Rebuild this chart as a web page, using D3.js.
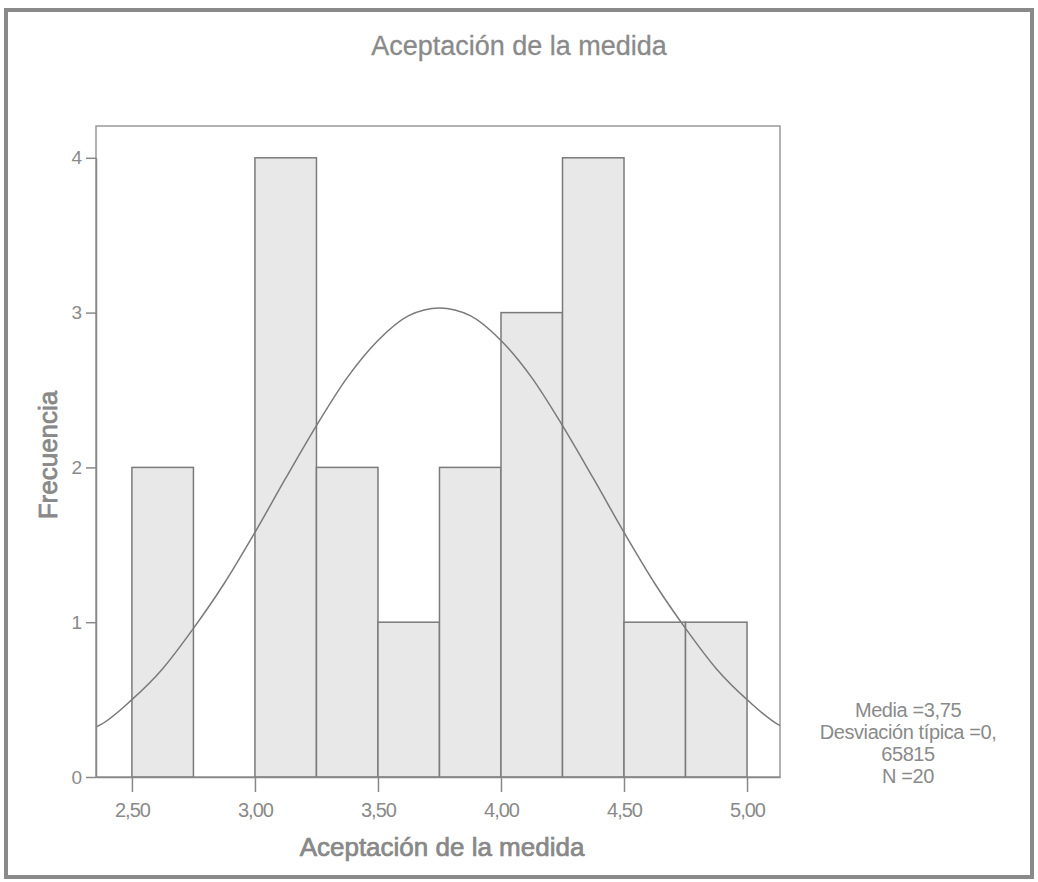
<!DOCTYPE html>
<html>
<head>
<meta charset="utf-8">
<script src="https://cdn.jsdelivr.net/npm/d3@7"></script>
<style>
  body { margin: 0; background: #fff; }
  text { font-family: "Liberation Sans", Arial, sans-serif; fill: #8a8a8a; }
</style>
</head>
<body>
<div id="chart"></div>
<script>
// histogram bins (lower edge) and counts
const binStarts = [2.50, 2.75, 3.00, 3.25, 3.50, 3.75, 4.00, 4.25, 4.50, 4.75]
const counts    = [2,    0,    4,    2,    1,    2,    3,    4,    1,    1]
const binWidth = 0.25

// normal curve
const curveX = [2.35, 2.375, 2.50, 2.625, 2.75, 2.875, 3.00, 3.125, 3.25, 3.375, 3.50, 3.625, 3.75,
                3.875, 4.00, 4.125, 4.25, 4.375, 4.50, 4.625, 4.75, 4.875, 5.00, 5.125, 5.15]
const curveY = [0.32, 0.34, 0.50, 0.70, 0.96, 1.25, 1.58, 1.93, 2.27, 2.58, 2.82, 2.98, 3.03,
                2.98, 2.82, 2.58, 2.27, 1.93, 1.58, 1.25, 0.96, 0.70, 0.50, 0.34, 0.32]

const xTicks = [2.5, 3.0, 3.5, 4.0, 4.5, 5.0]
const yTicks = [0, 1, 2, 3, 4]
const statsLines = ["Media =3,75", "Desviación típica =0,", "65815", "N =20"]

const W = 1038, H = 882
const plot = { left: 96, top: 126, right: 780, bottom: 777 }

const es = d3.formatLocale({ decimal: ",", thousands: ".", grouping: [3], currency: ["", "€"] })
const fmt2 = es.format(".2f")

const svg = d3.select("#chart").append("svg")
    .attr("width", W)
    .attr("height", H)

// outer frame
svg.append("rect")
    .attr("x", 6).attr("y", 10)
    .attr("width", 1026).attr("height", 867)
    .attr("fill", "none")
    .attr("stroke", "#8a8a8a")
    .attr("stroke-width", 4)

svg.append("text")
    .attr("x", 519).attr("y", 55)
    .attr("text-anchor", "middle")
    .attr("font-size", 27)
    .attr("stroke", "#8a8a8a").attr("stroke-width", 0.3)
    .text("Aceptación de la medida")

const x = d3.scaleLinear().domain([2.354, 5.134]).range([plot.left, plot.right])
const y = d3.scaleLinear().domain([0, 4]).range([plot.bottom, plot.bottom - 4 * 154.8])

// plot frame
svg.append("rect")
    .attr("x", plot.left).attr("y", plot.top)
    .attr("width", plot.right - plot.left).attr("height", plot.bottom - plot.top)
    .attr("fill", "#fff")
    .attr("stroke", "#999")
    .attr("stroke-width", 1.5)

svg.append("defs").append("clipPath").attr("id", "clip")
    .append("rect")
    .attr("x", plot.left).attr("y", plot.top)
    .attr("width", plot.right - plot.left).attr("height", plot.bottom - plot.top)

// bars
svg.append("g").selectAll("rect")
    .data(binStarts.map((b, i) => ({ b, c: counts[i] })).filter(d => d.c > 0))
    .enter().append("rect")
    .attr("x", d => x(d.b))
    .attr("y", d => y(d.c))
    .attr("width", d => x(d.b + binWidth) - x(d.b))
    .attr("height", d => y(0) - y(d.c))
    .attr("fill", "#e8e8e8")
    .attr("stroke", "#7a7a7a")
    .attr("stroke-width", 1.5)

// normal curve
const line = d3.line()
    .x(d => x(d[0]))
    .y(d => y(d[1]))
    .curve(d3.curveMonotoneX)

svg.append("path")
    .datum(curveX.map((v, i) => [v, curveY[i]]))
    .attr("clip-path", "url(#clip)")
    .attr("d", line)
    .attr("fill", "none")
    .attr("stroke", "#7a7a7a")
    .attr("stroke-width", 1.5)

// axes
const xAxis = svg.append("g")
    .attr("transform", `translate(0,${plot.bottom})`)
    .call(d3.axisBottom(x).tickValues(xTicks).tickFormat(fmt2).tickSize(15).tickSizeOuter(0).tickPadding(11))
const yAxis = svg.append("g")
    .attr("transform", `translate(${plot.left},0)`)
    .call(d3.axisLeft(y).tickValues(yTicks).tickFormat(d3.format("d")).tickSize(10).tickSizeOuter(0).tickPadding(4))

;[xAxis, yAxis].forEach(a => {
    a.select(".domain").attr("stroke", "#888").attr("stroke-width", 1.5)
    a.selectAll(".tick line").attr("stroke", "#888").attr("stroke-width", 1.5)
    a.selectAll(".tick text").attr("fill", "#8a8a8a")
        .style("font-family", '"Liberation Sans", Arial, sans-serif')
})
xAxis.selectAll(".tick text").attr("font-size", 20).attr("letter-spacing", -1)
yAxis.selectAll(".tick text").attr("font-size", 19)

svg.append("text")
    .attr("x", 442).attr("y", 856)
    .attr("text-anchor", "middle")
    .attr("font-size", 26)
    .attr("fill", "#858585")
    .attr("stroke", "#858585").attr("stroke-width", 0.7)
    .text("Aceptación de la medida")

svg.append("text")
    .attr("transform", "translate(57,455) rotate(-90)")
    .attr("text-anchor", "middle")
    .attr("font-size", 26)
    .attr("fill", "#858585")
    .attr("stroke", "#858585").attr("stroke-width", 0.7)
    .text("Frecuencia")

// stats box
svg.append("g").selectAll("text")
    .data(statsLines)
    .enter().append("text")
    .attr("x", 908)
    .attr("y", (d, i) => 717 + i * 22)
    .attr("text-anchor", "middle")
    .attr("font-size", 20)
    .attr("letter-spacing", -0.4)
    .text(d => d)
</script>
</body>
</html>
